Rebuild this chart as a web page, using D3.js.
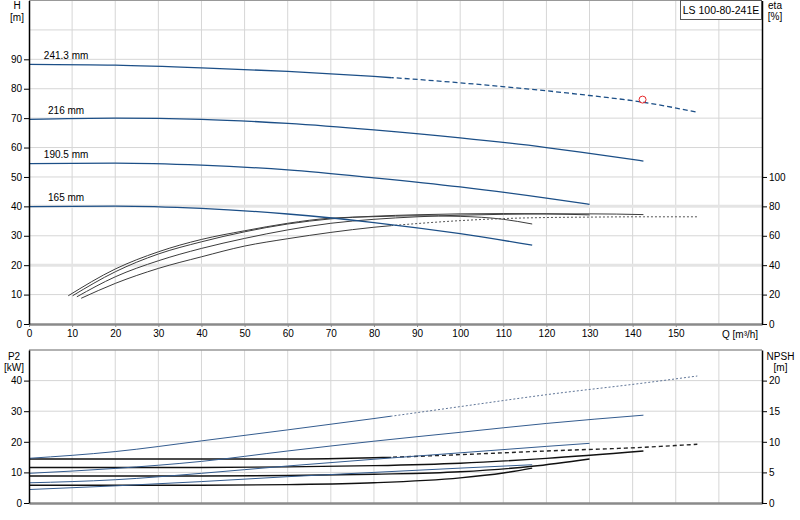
<!DOCTYPE html>
<html>
<head>
<meta charset="utf-8">
<script src="https://cdn.jsdelivr.net/npm/d3@7"></script>
<style>
  body { margin: 0; background: #fff; }
  svg text { font-family: "Liberation Sans", Arial, sans-serif; font-size: 10px; fill: #000; }
</style>
</head>
<body>
<div id="canvas"></div>
<script>
"use strict"

/* Data: [Q m3/h, value] */
let diameters = ["241.3 mm", "216 mm", "190.5 mm", "165 mm"];

let head241 = [[0,88.3],[20,88.0],[40,87.1],[60,85.9],[80,84.2],[100,82.0],[120,79.3],[130,77.7],[142.5,75.4],[155,72.0]];
let head216 = [[0,69.6],[20,70.0],[40,69.6],[60,68.2],[80,66.0],[100,63.3],[120,60.0],[130,58.0],[142.5,55.4]];
let head190 = [[0,54.5],[20,54.7],[40,54.0],[60,52.4],[80,49.7],[100,46.6],[120,42.8],[130,40.7]];
let head165 = [[0,39.9],[20,40.1],[40,39.3],[60,37.4],[80,34.5],[100,30.7],[116.7,26.8]];

let eta241 = [[12.1,17.5],[20,27.6],[30,37.8],[40,45.7],[50,53.0],[60,58.0],[70,62.3],[80,65.8],[90,68.3],[100,70.3],[110,71.7],[120,72.4],[130,72.7],[142.5,72.9],[155,72.9]];
let eta216 = [[11.1,18.5],[20,32.1],[30,43.0],[40,51.4],[50,58.2],[60,64.0],[70,68.5],[80,71.2],[90,72.9],[100,74.0],[110,74.6],[120,74.9],[130,74.9],[142.5,74.4]];
let eta190 = [[10.1,19.2],[20,35.5],[30,47.6],[40,55.9],[50,62.7],[60,68.0],[70,71.5],[80,73.3],[90,74.3],[100,74.9],[110,75.1],[120,74.9],[130,74.2]];
let eta165 = [[9.1,19.2],[20,37.4],[30,49.1],[40,57.5],[50,63.4],[60,68.5],[70,72.0],[80,73.0],[90,73.6],[100,73.2],[110,71.2],[116.7,68.0]];

let p2_241 = [[0,14.6],[20,16.8],[40,20.3],[60,23.9],[80,27.6],[100,31.5],[120,35.4],[142.5,39.2],[155,41.5]];
let p2_216 = [[0,9.7],[20,11.3],[40,13.6],[60,17.0],[80,20.2],[100,23.1],[120,26.0],[142.5,28.7]];
let p2_190 = [[0,6.6],[20,7.6],[40,9.7],[60,12.1],[80,14.3],[100,16.4],[120,18.5],[130,19.5]];
let p2_165 = [[0,4.4],[20,5.6],[40,7.0],[60,8.6],[80,10.0],[100,11.4],[116.7,12.5]];

let npsh241 = [[0,7.2],[20,7.2],[40,7.2],[60,7.2],[80,7.4],[100,7.9],[120,8.5],[142.5,9.1],[155,9.6]];
let npsh216 = [[0,5.8],[20,5.8],[40,5.8],[60,5.9],[80,6.1],[100,6.5],[120,7.3],[142.5,8.5]];
let npsh190 = [[0,4.4],[20,4.4],[40,4.4],[60,4.5],[80,4.7],[100,5.1],[116.7,6.0],[130,7.2]];
let npsh165 = [[0,2.9],[20,2.9],[40,2.9],[60,3.0],[80,3.3],[100,4.1],[110,4.9],[116.7,5.7]];

/* duty point and where the largest impeller turns dashed */
let dutyPoint = [142.3, 76.3];
let solidUntilQ = 84;

let qTicks = [0,10,20,30,40,50,60,70,80,90,100,110,120,130,140,150];
let qGrid = [10,20,30,40,50,60,70,80,90,100,110,120,130,140,150,160];
let hTicks = [0,10,20,30,40,50,60,70,80,90];
let hGrid = [10,20,30,40,50,60,70,80,90,100];
let etaTicks = [0,20,40,60,80,100];
let etaWide = [40,80];
let p2Ticks = [0,10,20,30,40];
let p2Grid = [10,20,30,40];
let npshTicks = [0,5,10,15,20];
let modelName = "LS 100-80-241E";

/* Drawing config */
let svgWidth = 800;
let svgHeight = 520;
let headColor = "#1c4f87";
let powerColor = "#345c8f";
let etaColor = "#3c3c3c";
let npshColor = "#111";

let svg = d3.select("#canvas")
    .append("svg")
    .attr("width", svgWidth)
    .attr("height", svgHeight);

let xScale = d3.scaleLinear().domain([0, 170]).range([29, 762]);
let hScale = d3.scaleLinear().domain([0, 110]).range([324, 0.5]);
let etaScale = d3.scaleLinear().domain([0, 220]).range([324, 0.5]);
let p2Scale = d3.scaleLinear().domain([0, 50]).range([503, 350]);
let npshScale = d3.scaleLinear().domain([0, 25]).range([503, 350]);

/* clip paths for solid / dashed parts */
let defs = svg.append("defs");
defs.append("clipPath").attr("id", "solidPart")
    .append("rect").attr("x", 0).attr("y", 0)
    .attr("width", xScale(solidUntilQ)).attr("height", svgHeight);
defs.append("clipPath").attr("id", "dashPart")
    .append("rect").attr("x", xScale(solidUntilQ)).attr("y", 0)
    .attr("width", svgWidth).attr("height", svgHeight);

/**** grid ****/
function drawGrid(yScale, yGrid, top, bottom) {
    svg.append("g").selectAll("line").data(qGrid).join("line")
        .attr("x1", d => xScale(d)).attr("x2", d => xScale(d))
        .attr("y1", top).attr("y2", bottom)
        .attr("stroke", "#d6d6d6");
    svg.append("g").selectAll("line").data(yGrid).join("line")
        .attr("x1", xScale(0)).attr("x2", xScale(170))
        .attr("y1", d => yScale(d)).attr("y2", d => yScale(d))
        .attr("stroke", "#d6d6d6");
}

drawGrid(hScale, hGrid, 0, 324);
drawGrid(p2Scale, p2Grid, 350, 503);
// wider pale lines at eta 40 / 80
svg.append("g").selectAll("line").data(etaWide).join("line")
    .attr("x1", xScale(0)).attr("x2", xScale(170))
    .attr("y1", d => etaScale(d)).attr("y2", d => etaScale(d))
    .attr("stroke", "#e4e4e4").attr("stroke-width", 3);

// frame tops
svg.append("line").attr("x1", xScale(0)).attr("x2", xScale(170))
    .attr("y1", 0.5).attr("y2", 0.5).attr("stroke", "#999");
svg.append("line").attr("x1", xScale(0)).attr("x2", xScale(170))
    .attr("y1", 350).attr("y2", 350).attr("stroke", "#999").attr("stroke-width", 1.5);

/**** curves ****/
function drawCurve(data, yScale, color, width, dash, clip) {
    let line = d3.line()
        .x(d => xScale(d[0]))
        .y(d => yScale(d[1]))
        .curve(d3.curveMonotoneX);
    let p = svg.append("path")
        .attr("d", line(data))
        .attr("fill", "none")
        .attr("stroke", color)
        .attr("stroke-width", width);
    if (dash) p.attr("stroke-dasharray", dash);
    if (clip) p.attr("clip-path", "url(#" + clip + ")");
}

// efficiency
drawCurve(eta165, etaScale, etaColor, 1);
drawCurve(eta190, etaScale, etaColor, 1);
drawCurve(eta216, etaScale, etaColor, 1);
drawCurve(eta241, etaScale, etaColor, 1, null, "solidPart");
drawCurve(eta241, etaScale, "#555", 1, "2,2", "dashPart");

// head
drawCurve(head165, hScale, headColor, 1.3);
drawCurve(head190, hScale, headColor, 1.3);
drawCurve(head216, hScale, headColor, 1.3);
drawCurve(head241, hScale, headColor, 1.3, null, "solidPart");
drawCurve(head241, hScale, headColor, 1.3, "5,3", "dashPart");

// NPSH
drawCurve(npsh165, npshScale, npshColor, 1.4);
drawCurve(npsh190, npshScale, npshColor, 1.4);
drawCurve(npsh216, npshScale, npshColor, 1.4);
drawCurve(npsh241, npshScale, npshColor, 1.4, null, "solidPart");
drawCurve(npsh241, npshScale, "#222", 1.4, "4,3", "dashPart");

// power
drawCurve(p2_165, p2Scale, powerColor, 1);
drawCurve(p2_190, p2Scale, powerColor, 1);
drawCurve(p2_216, p2Scale, powerColor, 1);
drawCurve(p2_241, p2Scale, powerColor, 1, null, "solidPart");
drawCurve(p2_241, p2Scale, "#5f7597", 1, "2,2", "dashPart");

/* diameter labels just above the head curves */
let headStarts = [head241[0][1], head216[0][1], head190[0][1], head165[0][1]];
svg.append("g").selectAll("text").data(diameters).join("text")
    .attr("x", xScale(8.6))
    .attr("y", (d, i) => hScale(headStarts[i]) - 5.5)
    .attr("text-anchor", "middle")
    .text(d => d);

/* duty point */
svg.append("circle")
    .attr("cx", xScale(dutyPoint[0]))
    .attr("cy", hScale(dutyPoint[1]))
    .attr("r", 3.5)
    .attr("fill", "none")
    .attr("stroke", "#e8282b");

/**** axes ****/
function styleAxis(g, color, width) {
    g.select(".domain").attr("stroke", color).attr("stroke-width", width);
    g.selectAll(".tick line").attr("stroke", color);
    g.selectAll(".tick text").attr("fill", "#000").style("font-size", "10px")
        .style("font-family", "'Liberation Sans', Arial, sans-serif");
}

let qAxis = svg.append("g").attr("transform", "translate(0,324)")
    .call(d3.axisBottom(xScale).tickValues(qTicks).tickSize(3).tickSizeOuter(0).tickPadding(3));
styleAxis(qAxis, "#8a8a8a", 2.5);

let hAxis = svg.append("g").attr("transform", "translate(29,0)")
    .call(d3.axisLeft(hScale).tickValues(hTicks).tickSize(5).tickSizeOuter(0).tickPadding(2));
styleAxis(hAxis, "#000", 1.5);

let etaAxis = svg.append("g").attr("transform", "translate(762,0)")
    .call(d3.axisRight(etaScale).tickValues(etaTicks).tickSize(5).tickSizeOuter(0).tickPadding(2));
styleAxis(etaAxis, "#000", 1.5);

let bottomAxis = svg.append("g").attr("transform", "translate(0,503)")
    .call(d3.axisBottom(xScale).tickValues([]).tickSizeOuter(0));
styleAxis(bottomAxis, "#8a8a8a", 2.5);

let p2Axis = svg.append("g").attr("transform", "translate(29,0)")
    .call(d3.axisLeft(p2Scale).tickValues(p2Ticks).tickSize(5).tickSizeOuter(0).tickPadding(2));
styleAxis(p2Axis, "#000", 1.5);

let npshAxis = svg.append("g").attr("transform", "translate(762,0)")
    .call(d3.axisRight(npshScale).tickValues(npshTicks).tickSize(5).tickSizeOuter(0).tickPadding(2));
styleAxis(npshAxis, "#000", 1.5);

/* axis titles */
svg.append("text").attr("x", 17).attr("y", 9).attr("text-anchor", "middle").text("H");
svg.append("text").attr("x", 17).attr("y", 21).attr("text-anchor", "middle").text("[m]");
svg.append("text").attr("x", 775).attr("y", 9).attr("text-anchor", "middle").text("eta");
svg.append("text").attr("x", 775).attr("y", 20).attr("text-anchor", "middle").text("[%]");
svg.append("text").attr("x", 722).attr("y", 338).text("Q [m³/h]");
svg.append("text").attr("x", 14).attr("y", 359.5).attr("text-anchor", "middle").text("P2");
svg.append("text").attr("x", 14).attr("y", 370.5).attr("text-anchor", "middle").text("[kW]");
svg.append("text").attr("x", 780.5).attr("y", 359.5).attr("text-anchor", "middle").text("NPSH");
svg.append("text").attr("x", 780.5).attr("y", 370.5).attr("text-anchor", "middle").text("[m]");

/* model box */
svg.append("rect")
    .attr("x", 680.5).attr("y", 0.5)
    .attr("width", 81).attr("height", 19)
    .attr("fill", "#fff").attr("stroke", "#555");
svg.append("text")
    .attr("x", 721).attr("y", 13.5)
    .attr("text-anchor", "middle")
    .style("font-size", "10.5px")
    .text(modelName);
</script>
</body>
</html>
